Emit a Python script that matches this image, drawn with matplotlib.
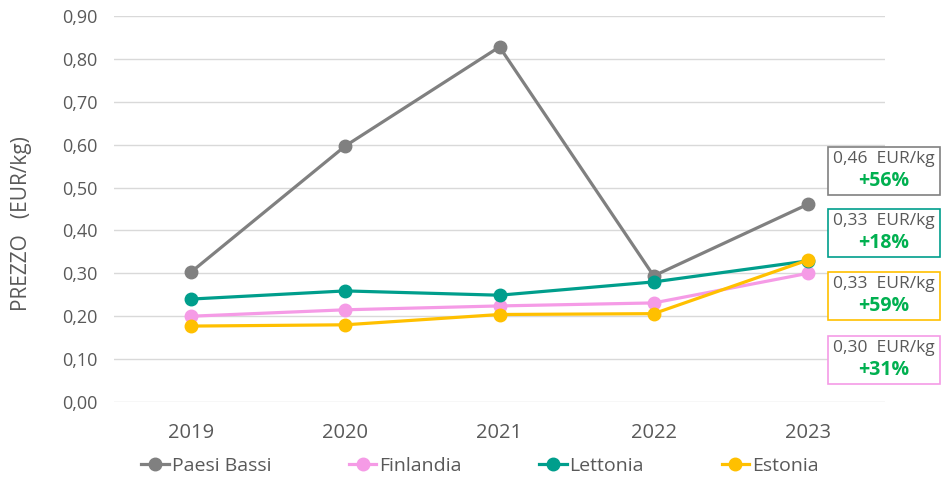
import matplotlib
matplotlib.use("Agg")
import matplotlib.pyplot as plt
from matplotlib.patches import Rectangle
from matplotlib.lines import Line2D

plt.rcParams['font.family'] = ['Open Sans', 'DejaVu Sans']

years = ["2019", "2020", "2021", "2022", "2023"]
paesi_bassi = [0.303, 0.597, 0.828, 0.294, 0.461]
finlandia = [0.200, 0.215, 0.224, 0.231, 0.300]
lettonia = [0.240, 0.259, 0.249, 0.280, 0.329]
estonia = [0.177, 0.180, 0.204, 0.206, 0.331]

series_names = ["Paesi Bassi", "Finlandia", "Lettonia", "Estonia"]
series_values = [paesi_bassi, finlandia, lettonia, estonia]
colors = ["#808080", "#F59BE6", "#009E8C", "#FFC000"]

yticks = [0.0, 0.1, 0.2, 0.3, 0.4, 0.5, 0.6, 0.7, 0.8, 0.9]
ytick_labels = ["0,00", "0,10", "0,20", "0,30", "0,40", "0,50", "0,60", "0,70", "0,80", "0,90"]

box_prices = ["0,46", "0,33", "0,33", "0,30"]
box_changes = ["+56%", "+18%", "+59%", "+31%"]
box_colors = ["#808080", "#009E8C", "#FFC000", "#F59BE6"]

W, H = 943, 480
fig = plt.figure(figsize=(W / 100, H / 100), dpi=100)
ax = fig.add_axes([114 / W, (H - 402) / H, 771 / W, 386 / H])

x = list(range(len(years)))
for name, vals, c in zip(series_names, series_values, colors):
    ax.plot(x, vals, color=c, lw=2.3, marker='o', markersize=9, label=name, zorder=3)

ax.set_xlim(-0.5, len(years) - 0.5)
ax.set_ylim(0, 0.9)
ax.set_yticks(yticks)
ax.set_yticklabels(ytick_labels)
ax.set_xticks(x)
ax.set_xticklabels(years)
ax.tick_params(axis='both', length=0, colors='#595959')
ax.tick_params(axis='y', pad=12, labelsize=13)
ax.tick_params(axis='x', pad=15, labelsize=14.5)
ax.grid(axis='y', color='#D9D9D9', lw=1)
ax.set_axisbelow(True)
for s in ax.spines.values():
    s.set_visible(False)
ax.yaxis.set_label_coords(-(114 - 22) / 771, (402 - 224) / 386, transform=None) if False else None
fig.text(22 / W, 1 - 224 / H, "PREZZO   (EUR/kg)", rotation=90, ha='center', va='center',
         fontsize=15, color='#595959')

handles = [Line2D([0], [0], color=c, lw=2.3, marker='o', markersize=9) for c in colors]
fig.legend(handles, series_names, loc='center', bbox_to_anchor=(480 / W, 1 - 466 / H),
           ncol=4, frameon=False, fontsize=14, columnspacing=4.0, handlelength=1.4,
           handletextpad=0.15, labelcolor='#595959')

box_tops = [147, 209, 272, 336]
for top, price, chg, bc in zip(box_tops, box_prices, box_changes, box_colors):
    rect = Rectangle((828 / W, 1 - (top + 48) / H), 112 / W, 48 / H,
                     transform=fig.transFigure, fill=True, facecolor='white',
                     edgecolor=bc, lw=1.2)
    fig.patches.append(rect)
    fig.text(884 / W, 1 - (top + 12) / H, f"{price}  EUR/kg", ha='center', va='center',
             fontsize=12.5, color='#595959')
    fig.text(884 / W, 1 - (top + 34) / H, chg, ha='center', va='center',
             fontsize=14, color='#00B050', fontweight='bold')

fig.savefig("out.png", dpi=100)
